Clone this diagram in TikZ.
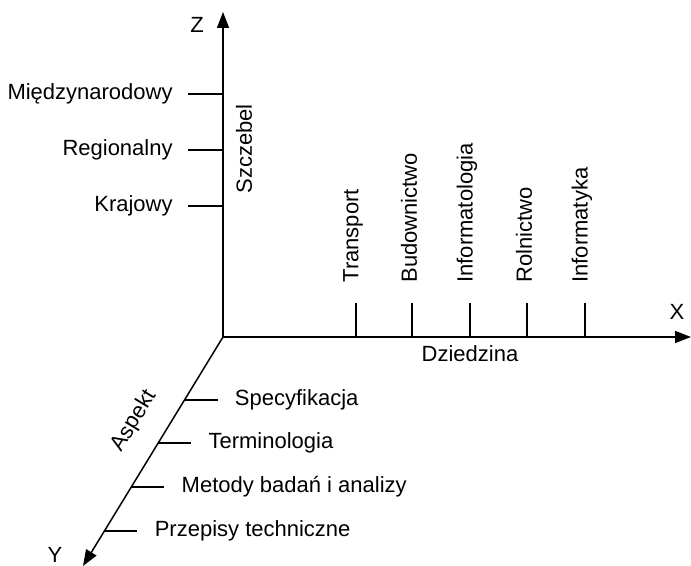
\documentclass[tikz,border=0pt]{standalone}
\usepackage{fontspec}
\setmainfont{Liberation Sans}
\usepackage{tikz}
\usetikzlibrary{arrows.meta,calc}

\begin{document}
\begin{tikzpicture}[
    x=0.5pt,y=-0.5pt,
    axis/.style={line width=0.75pt, -{Triangle[length=8pt,width=6pt]}},
    tick/.style={line width=0.6pt},
    lbl/.style={font=\fontsize{11}{13}\selectfont, inner sep=0pt}
  ]
    \useasboundingbox (0,0) rectangle (691,566);
    \coordinate (O) at (223,337);
    \coordinate (Ztip) at (223,12);
    \coordinate (Xtip) at (691,337);
    \coordinate (Ytip) at (83,566);
    \draw[axis] (O) -- (Ztip);
    \draw[axis] (O) -- (Xtip);
    \draw[axis] (O) -- (Ytip);
    \node[lbl] (zname) at (197,25) {Z};
    \node[lbl] (xname) at (677,312) {X};
    \node[lbl] (yname) at (55,555) {Y};
    \foreach \y/\name/\t in {94/mi/Międzynarodowy,150/re/Regionalny,206/kr/Krajowy} {
      \coordinate (z-\name) at (223,\y);
      \draw[tick] (z-\name) -- ++(-35,0) coordinate (zt-\name);
      \node[lbl, anchor=east] (\name) at ([xshift=-7.5pt]zt-\name) {\t};
    }
    \foreach \x/\name/\t in {356/tr/Transport,412/bu/Budownictwo,470/it/Informatologia,527/ro/Rolnictwo,585/ik/Informatyka} {
      \coordinate (x-\name) at (\x,337);
      \draw[tick] (x-\name) -- ++(0,-34) coordinate (xt-\name);
      \node[lbl, rotate=90, anchor=west] (\name) at ([xshift=-1.5pt,yshift=10pt]xt-\name) {\t};
    }
    \foreach \p/\name/\t in {0.275/sp/Specyfikacja,0.463/te/Terminologia,0.655/me/Metody badań i analizy,0.847/pr/Przepisy techniczne} {
      \coordinate (y-\name) at ($(O)!\p!(Ytip)$);
      \draw[tick] (y-\name) -- ++(33,0) coordinate (yt-\name);
      \node[lbl, anchor=west] (\name) at ([xshift=8.5pt]yt-\name) {\t};
    }
    \node[lbl, rotate=90] (szczebel) at (244,149) {Szczebel};
    \node[lbl] (dziedzina) at (470,354) {Dziedzina};
    \node[lbl, rotate=58.7] (aspekt) at (134,421) {Aspekt};
  \end{tikzpicture}
\end{document}
